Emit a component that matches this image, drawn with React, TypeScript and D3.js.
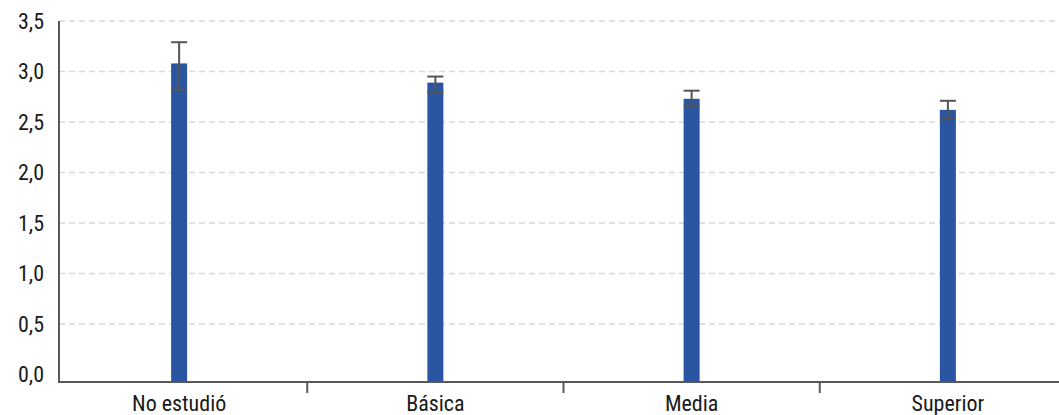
import React from "react";
import * as d3 from "d3";

const categories = ["No estudió", "Básica", "Media", "Superior"];
const means = [3.08, 2.89, 2.73, 2.62];
const lows = [2.82, 2.79, 2.66, 2.54];
const highs = [3.29, 2.95, 2.81, 2.71];
const yTicks = [0, 0.5, 1, 1.5, 2, 2.5, 3, 3.5];

const W = 1059;
const H = 415;
const axisX = 59;
const axisY = 382;
const FONT = "'Liberation Sans Narrow', 'Roboto Condensed', 'Arial Narrow', Roboto, sans-serif";

export default function App() {
  const x = d3.scaleBand<string>().domain(categories).range([51, 1076]).paddingInner(0).paddingOuter(0);
  const y = d3.scaleLinear().domain([0, 3.5]).range([374.5, 21]);
  const fmt = (v: number) => v.toFixed(1).replace(".", ",");
  const barW = 16;
  const capW = 16;

  return (
    <svg width={W} height={H} style={{ position: "absolute", left: 0, top: 0, background: "#fff" }}>
      {yTicks.filter((t) => t > 0).map((t) => (
        <line key={"g" + t} x1={axisX} x2={W} y1={y(t)} y2={y(t)} stroke="#d9d9d9" strokeWidth={1.5} strokeDasharray="6,4" />
      ))}
      {yTicks.map((t) => (
        <text key={"yl" + t} x={44} y={y(t)} dy="0.36em" textAnchor="end" fontFamily={FONT} fontSize={22} fill="#1a1a1a">
          {fmt(t)}
        </text>
      ))}
      {categories.map((c, i) => {
        const cx = (x(c) as number) + x.bandwidth() / 2;
        return (
          <g key={c}>
            <rect x={cx - barW / 2} y={y(means[i])} width={barW} height={axisY - y(means[i])} fill="#2a55a0" />
            <line x1={cx} x2={cx} y1={y(highs[i])} y2={y(lows[i])} stroke="#555" strokeWidth={2} />
            <line x1={cx - capW / 2} x2={cx + capW / 2} y1={y(highs[i])} y2={y(highs[i])} stroke="#555" strokeWidth={2} />
            <line x1={cx - capW / 2} x2={cx + capW / 2} y1={y(lows[i])} y2={y(lows[i])} stroke="#555" strokeWidth={2} />
            <text x={cx} y={411} textAnchor="middle" fontFamily={FONT} fontSize={22} fill="#1a1a1a">
              {c}
            </text>
          </g>
        );
      })}
      {categories.slice(1).map((c) => (
        <line key={"t" + c} x1={x(c) as number} x2={x(c) as number} y1={axisY} y2={axisY + 11} stroke="#595959" strokeWidth={2} />
      ))}
      <line x1={axisX} x2={axisX} y1={21} y2={axisY + 1} stroke="#595959" strokeWidth={2} />
      <line x1={axisX - 1} x2={W} y1={axisY} y2={axisY} stroke="#595959" strokeWidth={2} />
    </svg>
  );
}
